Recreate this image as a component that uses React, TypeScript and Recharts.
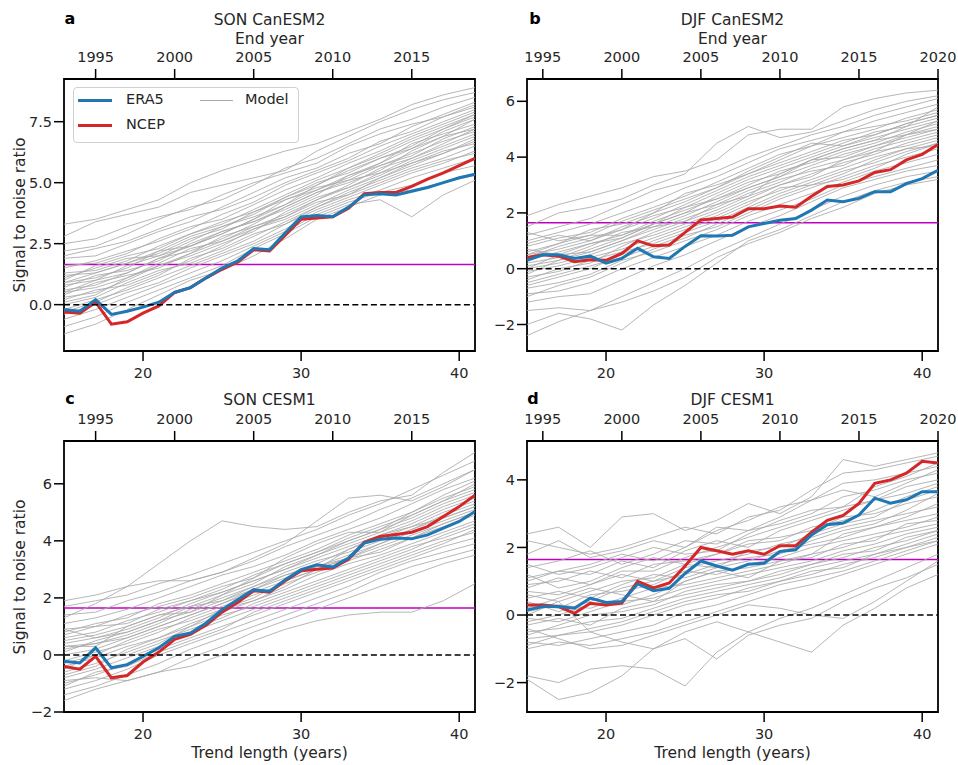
import React from "react";
import { LineChart, Line, XAxis, YAxis, ReferenceLine, ReferenceArea } from "recharts";

// x positions (trend length, years)
const trendLength = [15, 16, 17, 18, 19, 20, 21, 22, 23, 24, 25, 26, 27, 28, 29, 30, 31, 32, 33, 34, 35, 36, 37, 38, 39, 40, 41];
// model members are read every other year
const modelLength = [15, 17, 19, 21, 23, 25, 27, 29, 31, 33, 35, 37, 39, 41];

const threshold = 1.645;

// ---- a: SON CanESM2
const eraA = [-0.2, -0.27, 0.2, -0.4, -0.27, -0.1, 0.1, 0.5, 0.7, 1.1, 1.5, 1.8, 2.3, 2.25, 2.95, 3.6, 3.65, 3.6, 4.0, 4.5, 4.55, 4.5, 4.65, 4.8, 5.0, 5.2, 5.35];
const ncepA = [-0.3, -0.35, 0.1, -0.8, -0.7, -0.35, -0.05, 0.5, 0.7, 1.1, 1.45, 1.75, 2.25, 2.2, 2.85, 3.5, 3.55, 3.6, 3.95, 4.55, 4.6, 4.6, 4.85, 5.15, 5.4, 5.7, 6.0];
const modelsA = [
  [3.3, 3.5, 3.9, 4.3, 5.0, 5.5, 5.9, 6.3, 6.6, 7.1, 7.6, 8.2, 8.6, 8.9],
  [2.8, 3.4, 3.7, 4.0, 4.6, 4.9, 5.2, 5.5, 6.3, 6.9, 7.5, 8.0, 8.4, 8.7],
  [2.2, 2.4, 2.9, 3.5, 4.0, 4.3, 4.9, 5.6, 6.0, 6.6, 7.2, 7.6, 8.1, 8.5],
  [1.9, 2.0, 2.5, 3.0, 3.4, 4.0, 4.6, 5.2, 5.6, 6.2, 6.6, 7.3, 7.8, 8.3],
  [1.5, 1.8, 2.2, 2.6, 3.1, 3.7, 4.2, 4.9, 5.4, 5.9, 6.5, 7.0, 7.5, 8.0],
  [1.3, 1.4, 1.8, 2.4, 2.9, 3.3, 3.9, 4.5, 5.1, 5.6, 6.2, 6.8, 7.3, 7.8],
  [1.1, 1.5, 1.9, 2.0, 2.6, 3.2, 3.6, 4.1, 4.9, 5.5, 6.0, 6.4, 7.1, 7.6],
  [0.9, 1.1, 1.5, 2.2, 2.4, 2.9, 3.5, 4.3, 4.7, 5.2, 5.8, 6.6, 7.0, 7.4],
  [0.7, 1.2, 1.4, 1.8, 2.5, 3.0, 3.4, 3.9, 4.5, 5.3, 5.7, 6.1, 6.8, 7.3],
  [0.6, 0.8, 1.3, 1.9, 2.2, 2.7, 3.3, 4.0, 4.6, 5.0, 5.5, 6.3, 6.9, 7.2],
  [0.4, 0.9, 1.2, 1.5, 2.1, 2.8, 3.2, 3.7, 4.3, 4.9, 5.6, 6.0, 6.5, 7.0],
  [0.3, 0.5, 1.0, 1.6, 2.0, 2.5, 3.0, 3.8, 4.4, 4.8, 5.3, 5.9, 6.4, 6.9],
  [0.2, 0.6, 0.8, 1.3, 1.8, 2.4, 3.1, 3.5, 4.1, 4.7, 5.2, 5.7, 6.2, 6.7],
  [0.0, 0.3, 0.9, 1.4, 1.7, 2.2, 2.8, 3.4, 4.0, 4.6, 5.1, 5.6, 6.0, 6.5],
  [-0.2, 0.2, 0.6, 1.1, 1.6, 2.1, 2.6, 3.3, 3.9, 4.4, 4.9, 5.4, 5.8, 6.3],
  [-0.4, 0.0, 0.5, 0.9, 1.5, 2.0, 2.5, 3.1, 3.8, 4.3, 4.7, 5.2, 5.6, 6.0],
  [-0.6, -0.2, 0.3, 0.8, 1.3, 1.8, 2.4, 3.0, 3.7, 4.2, 4.6, 4.9, 5.4, 5.7],
  [-0.9, -0.5, 0.1, 0.6, 1.1, 1.6, 2.3, 2.9, 3.6, 4.1, 4.3, 3.6, 4.5, 5.1],
  [-1.2, -0.8, -0.2, 0.4, 1.0, 1.4, 2.0, 2.7, 3.5, 4.0, 4.5, 4.7, 5.0, 5.3],
  [1.0, 1.6, 2.0, 2.3, 2.9, 3.4, 3.8, 4.3, 4.8, 5.1, 5.4, 5.8, 6.2, 6.8],
  [0.5, 0.7, 1.1, 1.7, 2.3, 2.6, 3.2, 3.6, 4.2, 4.5, 5.0, 5.5, 5.9, 6.2],
  [2.5, 2.7, 3.2, 3.6, 3.9, 4.5, 5.0, 5.4, 5.8, 6.5, 7.0, 7.4, 7.7, 8.1],
  [1.2, 1.3, 1.7, 2.1, 2.7, 3.1, 3.8, 4.4, 4.9, 5.6, 6.1, 6.7, 7.2, 7.7],
  [0.8, 1.0, 1.6, 2.0, 2.4, 2.9, 3.5, 4.1, 4.7, 5.3, 5.8, 6.4, 6.9, 7.6],
  [0.5, 1.0, 1.3, 1.9, 2.4, 3.0, 3.4, 4.0, 4.6, 5.1, 5.7, 6.2, 6.7, 7.1],
  [1.6, 1.7, 2.1, 2.7, 3.2, 3.5, 4.1, 4.7, 5.2, 5.8, 6.3, 6.9, 7.4, 7.9],
  [0.1, 0.4, 1.1, 1.6, 2.1, 2.6, 3.1, 3.6, 4.3, 4.8, 5.4, 6.0, 6.6, 7.2],
  [2.0, 2.3, 2.6, 3.1, 3.6, 3.9, 4.4, 5.0, 5.5, 6.0, 6.7, 7.1, 7.7, 8.2],
  [-0.3, 0.1, 0.7, 1.2, 1.9, 2.3, 2.9, 3.3, 4.0, 4.5, 5.2, 5.8, 6.3, 6.6],
  [0.9, 1.3, 1.7, 2.2, 2.8, 3.2, 3.7, 4.4, 5.0, 5.4, 6.0, 6.5, 7.2, 7.8],
];

// ---- b: DJF CanESM2
const eraB = [0.3, 0.5, 0.5, 0.37, 0.45, 0.2, 0.37, 0.73, 0.43, 0.37, 0.8, 1.18, 1.17, 1.2, 1.5, 1.62, 1.74, 1.8, 2.1, 2.46, 2.4, 2.52, 2.76, 2.76, 3.05, 3.23, 3.53];
const ncepB = [0.4, 0.5, 0.45, 0.25, 0.32, 0.3, 0.55, 1.0, 0.82, 0.85, 1.3, 1.75, 1.8, 1.85, 2.15, 2.15, 2.25, 2.2, 2.6, 2.95, 3.0, 3.15, 3.45, 3.55, 3.9, 4.1, 4.45];
const modelsB = [
  [1.9, 2.3, 2.6, 2.9, 3.3, 3.5, 3.9, 4.8, 5.0, 5.0, 5.8, 6.1, 6.3, 6.4],
  [1.5, 2.0, 2.2, 2.5, 3.0, 3.4, 4.5, 5.1, 4.7, 4.9, 5.3, 5.7, 6.0, 6.2],
  [1.2, 1.5, 1.8, 2.3, 2.8, 3.1, 3.5, 4.0, 4.4, 4.8, 5.1, 5.5, 5.8, 6.1],
  [1.0, 1.3, 1.6, 2.0, 2.4, 2.9, 3.3, 3.8, 4.3, 4.6, 4.9, 5.3, 5.6, 5.9],
  [0.8, 1.1, 1.3, 1.8, 2.2, 2.6, 3.1, 3.6, 4.1, 4.4, 4.7, 5.0, 5.4, 5.7],
  [0.6, 0.9, 1.4, 1.6, 2.0, 2.4, 2.9, 3.4, 3.8, 4.2, 4.6, 4.8, 5.2, 5.5],
  [0.5, 0.7, 1.0, 1.5, 1.9, 2.2, 2.7, 3.2, 3.6, 4.0, 4.4, 4.7, 5.0, 5.3],
  [0.3, 0.6, 0.9, 1.2, 1.7, 2.1, 2.5, 3.0, 3.5, 3.8, 4.2, 4.5, 4.9, 5.2],
  [0.2, 0.4, 0.8, 1.3, 1.5, 1.9, 2.4, 2.9, 3.3, 3.7, 4.1, 4.4, 4.7, 5.0],
  [0.1, 0.3, 0.6, 1.0, 1.4, 1.8, 2.2, 2.7, 3.1, 3.6, 3.9, 4.3, 4.6, 4.9],
  [0.0, 0.2, 0.5, 0.9, 1.2, 1.6, 2.0, 2.5, 3.0, 3.4, 3.8, 4.1, 4.5, 4.8],
  [-0.1, 0.1, 0.4, 0.7, 1.1, 1.5, 1.9, 2.4, 2.8, 3.2, 3.6, 4.0, 4.3, 4.6],
  [-0.3, -0.1, 0.3, 0.6, 0.9, 1.3, 1.7, 2.2, 2.7, 3.1, 3.5, 3.8, 4.2, 4.5],
  [-0.5, -0.2, 0.1, 0.4, 0.8, 1.2, 1.5, 2.0, 2.5, 2.9, 3.3, 3.7, 4.0, 4.3],
  [-0.7, -0.5, -0.2, 0.3, 0.6, 1.0, 1.4, 1.9, 2.3, 2.7, 3.1, 3.5, 3.8, 4.1],
  [-0.9, -0.8, -0.5, 0.0, 0.4, 0.8, 1.2, 1.7, 2.1, 2.5, 3.0, 3.3, 3.6, 3.9],
  [-1.2, -1.0, -0.9, -0.4, 0.1, 0.5, 1.0, 1.5, 1.9, 2.4, 2.9, 3.2, 3.5, 3.7],
  [-1.5, -1.4, -1.5, -1.0, -0.5, 0.0, 0.6, 1.1, 1.6, 2.1, 2.6, 3.0, 3.3, 3.5],
  [-2.0, -1.6, -1.8, -2.2, -1.3, -0.6, 0.2, 1.0, 1.4, 1.9, 2.4, 2.8, 3.1, 3.3],
  [-2.4, -1.9, -1.5, -1.2, -0.8, -0.3, 0.4, 0.9, 1.3, 1.8, 2.2, 2.7, 3.0, 3.2],
  [0.9, 1.2, 1.0, 1.4, 2.0, 2.7, 3.0, 3.4, 3.9, 4.4, 4.9, 5.1, 5.3, 5.6],
  [-0.4, 0.0, 0.2, 0.8, 1.3, 1.7, 2.3, 2.8, 3.2, 3.5, 3.7, 4.2, 4.4, 4.7],
  [0.4, 0.8, 1.1, 1.4, 1.8, 2.3, 2.8, 3.3, 3.7, 4.1, 4.5, 4.9, 5.1, 5.4],
  [0.7, 0.5, 0.9, 1.1, 1.6, 2.0, 2.6, 3.1, 3.4, 3.9, 4.3, 4.6, 5.1, 5.8],
  [-0.2, 0.3, 0.7, 1.1, 1.6, 2.0, 2.3, 2.6, 3.0, 3.3, 3.9, 4.2, 4.8, 5.1],
  [1.3, 1.0, 1.2, 1.7, 2.1, 2.5, 2.9, 3.5, 4.0, 4.5, 4.4, 4.8, 5.2, 5.5],
  [0.0, 0.5, 0.6, 1.0, 1.5, 1.7, 2.1, 2.6, 3.4, 3.9, 4.0, 4.4, 4.8, 5.0],
  [-0.6, -0.3, 0.0, 0.5, 1.0, 1.4, 1.8, 2.3, 2.9, 3.0, 3.4, 3.9, 4.3, 4.4],
  [0.5, 0.9, 1.2, 1.2, 1.6, 2.2, 2.5, 2.9, 3.3, 3.9, 4.3, 4.6, 4.8, 5.3],
  [-1.0, -0.6, -0.3, 0.2, 0.7, 1.1, 1.6, 2.1, 2.6, 3.0, 3.2, 3.6, 4.1, 4.5],
];

// ---- c: SON CESM1
const eraC = [-0.22, -0.28, 0.25, -0.45, -0.34, -0.05, 0.25, 0.65, 0.77, 1.12, 1.59, 1.94, 2.29, 2.23, 2.64, 2.99, 3.16, 3.08, 3.4, 3.92, 4.06, 4.1, 4.07, 4.21, 4.45, 4.68, 5.03];
const ncepC = [-0.4, -0.5, -0.05, -0.8, -0.72, -0.25, 0.1, 0.55, 0.72, 1.05, 1.5, 1.85, 2.25, 2.2, 2.6, 2.95, 3.0, 3.05, 3.35, 3.95, 4.15, 4.22, 4.3, 4.5, 4.85, 5.2, 5.6];
const modelsC = [
  [1.9, 2.1, 2.4, 3.2, 4.0, 4.7, 4.5, 4.4, 4.5, 5.0, 5.4, 5.6, 6.4, 7.1],
  [1.7, 1.9, 2.1, 2.5, 2.8, 3.2, 3.6, 4.0, 4.4, 4.9, 5.3, 5.8, 6.3, 6.8],
  [1.4, 1.5, 1.9, 2.2, 2.6, 2.9, 3.3, 3.8, 4.2, 4.6, 5.1, 5.5, 6.0, 6.5],
  [1.1, 1.3, 1.6, 2.0, 2.4, 2.8, 3.1, 3.5, 4.0, 4.4, 4.8, 5.3, 5.8, 6.2],
  [0.8, 1.1, 1.3, 1.8, 2.1, 2.5, 2.9, 3.3, 3.7, 4.2, 4.6, 5.0, 5.5, 5.9],
  [0.6, 0.8, 1.2, 1.5, 1.9, 2.3, 2.8, 3.2, 3.6, 4.0, 4.4, 4.8, 5.3, 5.7],
  [0.4, 0.6, 0.9, 1.3, 1.8, 2.2, 2.6, 3.0, 3.4, 3.8, 4.2, 4.6, 5.1, 5.5],
  [0.2, 0.4, 0.7, 1.1, 1.6, 2.0, 2.4, 2.9, 3.3, 3.6, 4.0, 4.4, 4.9, 5.3],
  [0.0, 0.2, 0.6, 1.0, 1.4, 1.8, 2.3, 2.7, 3.1, 3.5, 3.9, 4.3, 4.7, 5.1],
  [-0.2, 0.1, 0.4, 0.8, 1.3, 1.7, 2.1, 2.5, 2.9, 3.3, 3.7, 4.1, 4.5, 4.9],
  [-0.4, -0.1, 0.3, 0.6, 1.1, 1.5, 1.9, 2.3, 2.8, 3.2, 3.5, 3.9, 4.3, 4.7],
  [-0.6, -0.3, 0.1, 0.5, 0.9, 1.3, 1.8, 2.2, 2.6, 3.0, 3.4, 3.8, 4.1, 4.5],
  [-0.8, -0.5, -0.1, 0.3, 0.8, 1.2, 1.6, 2.0, 2.4, 2.8, 3.2, 3.6, 4.0, 4.3],
  [-1.0, -0.7, -0.3, 0.2, 0.6, 1.0, 1.4, 1.8, 2.2, 2.6, 3.0, 3.4, 3.8, 4.1],
  [-1.2, -0.9, -0.5, 0.0, 0.4, 0.8, 1.2, 1.6, 2.0, 2.4, 2.9, 3.3, 3.6, 3.9],
  [-1.4, -1.1, -0.7, -0.3, 0.2, 0.6, 1.0, 1.4, 1.8, 2.2, 2.7, 3.1, 3.4, 3.7],
  [-1.6, -1.2, -0.9, -0.6, -0.1, 0.3, 0.8, 1.2, 1.6, 2.0, 2.4, 2.8, 3.2, 3.5],
  [-0.9, -0.8, -0.9, -0.6, -0.4, 0.0, 0.5, 0.9, 1.2, 1.4, 1.5, 1.5, 1.9, 2.5],
  [1.3, 1.8, 2.4, 2.6, 2.6, 2.9, 3.4, 3.9, 4.7, 5.5, 5.6, 5.4, 5.9, 6.5],
  [0.3, 0.3, 1.0, 1.4, 1.5, 2.1, 2.7, 3.4, 3.9, 4.3, 4.3, 4.9, 5.4, 5.8],
  [-0.5, 0.0, 0.0, 0.4, 1.0, 1.6, 1.9, 2.4, 3.0, 3.7, 4.2, 4.5, 4.8, 5.2],
  [0.9, 0.6, 0.8, 1.2, 1.7, 1.9, 2.3, 2.8, 3.1, 3.4, 3.6, 4.1, 4.6, 5.0],
  [0.5, 0.7, 1.0, 1.4, 1.7, 2.1, 2.5, 3.1, 3.5, 3.9, 4.3, 4.7, 5.2, 5.6],
  [0.1, 0.5, 0.8, 1.2, 1.5, 1.9, 2.4, 2.8, 3.2, 3.7, 4.1, 4.5, 5.0, 5.4],
  [-0.3, 0.0, 0.5, 0.9, 1.2, 1.6, 2.0, 2.6, 3.0, 3.4, 3.8, 4.2, 4.6, 5.0],
  [0.9, 1.0, 1.4, 1.7, 2.0, 2.4, 2.7, 3.2, 3.6, 4.1, 4.5, 4.9, 5.4, 6.0],
  [-0.7, -0.4, 0.2, 0.6, 1.0, 1.4, 1.7, 2.1, 2.5, 2.9, 3.3, 3.7, 4.2, 4.6],
  [0.3, 0.4, 0.6, 1.0, 1.4, 1.8, 2.2, 2.6, 3.0, 3.4, 3.9, 4.4, 4.8, 5.2],
  [-1.1, -0.6, -0.4, 0.1, 0.5, 0.9, 1.5, 1.9, 2.3, 2.7, 3.1, 3.5, 3.9, 4.4],
  [0.7, 1.0, 1.1, 1.6, 1.9, 2.2, 2.6, 3.0, 3.5, 4.0, 4.4, 5.0, 5.6, 6.1],
];

// ---- d: DJF CESM1
const eraD = [0.15, 0.25, 0.25, 0.2, 0.5, 0.37, 0.4, 0.92, 0.72, 0.79, 1.23, 1.6, 1.45, 1.33, 1.5, 1.53, 1.88, 1.93, 2.37, 2.67, 2.72, 2.96, 3.46, 3.31, 3.41, 3.65, 3.65];
const ncepD = [0.3, 0.3, 0.25, 0.05, 0.35, 0.3, 0.35, 1.0, 0.8, 0.95, 1.45, 2.0, 1.9, 1.8, 1.9, 1.8, 2.05, 2.05, 2.45, 2.8, 2.95, 3.3, 3.9, 4.0, 4.2, 4.55, 4.5];
const modelsD = [
  [2.4, 2.6, 2.0, 2.9, 3.0, 2.5, 2.8, 3.3, 3.0, 3.5, 4.6, 4.4, 4.6, 4.8],
  [2.2, 2.0, 1.8, 2.0, 2.3, 2.6, 2.4, 2.9, 3.1, 3.7, 4.2, 4.3, 4.5, 4.7],
  [1.8, 2.2, 1.7, 1.9, 2.2, 2.0, 2.6, 2.5, 2.9, 3.4, 3.9, 4.0, 4.2, 4.4],
  [1.4, 1.6, 1.9, 1.5, 1.8, 2.2, 2.1, 2.5, 2.7, 3.0, 3.5, 3.7, 4.0, 4.2],
  [1.1, 1.3, 1.2, 1.6, 1.4, 1.9, 2.2, 2.0, 2.5, 2.8, 3.1, 3.4, 3.6, 3.9],
  [0.9, 1.0, 1.3, 1.1, 1.5, 1.6, 1.8, 2.2, 2.3, 2.5, 2.9, 3.0, 3.3, 3.5],
  [0.7, 0.6, 0.9, 1.2, 1.0, 1.4, 1.6, 1.8, 2.1, 2.3, 2.6, 2.8, 3.0, 3.2],
  [0.5, 0.7, 0.5, 0.9, 1.2, 1.1, 1.4, 1.6, 1.9, 2.1, 2.3, 2.6, 2.8, 3.0],
  [0.3, 0.2, 0.6, 0.7, 0.9, 1.3, 1.2, 1.5, 1.7, 2.0, 2.2, 2.4, 2.6, 2.9],
  [0.1, 0.3, 0.2, 0.5, 0.8, 0.9, 1.1, 1.3, 1.5, 1.8, 2.0, 2.3, 2.5, 2.7],
  [-0.1, -0.2, 0.1, 0.4, 0.5, 0.8, 1.0, 1.2, 1.4, 1.6, 1.9, 2.1, 2.4, 2.6],
  [-0.3, -0.1, -0.3, 0.2, 0.4, 0.6, 0.8, 1.0, 1.3, 1.5, 1.7, 2.0, 2.2, 2.5],
  [-0.5, -0.4, -0.2, -0.1, 0.2, 0.5, 0.7, 0.9, 1.1, 1.4, 1.6, 1.8, 2.1, 2.4],
  [-0.7, -0.6, -0.5, -0.3, 0.0, 0.3, 0.5, 0.8, 1.0, 1.2, 1.5, 1.7, 2.0, 2.3],
  [-0.8, -0.9, -0.7, -0.5, -0.3, 0.1, 0.3, 0.6, 0.9, 1.1, 1.3, 1.6, 1.9, 2.2],
  [-1.0, -0.8, -0.9, -0.7, -0.5, -0.2, 0.1, 0.4, 0.7, 0.9, 1.2, 1.5, 1.8, 2.1],
  [-1.8, -2.0, -1.6, -1.5, -1.6, -2.1, -1.1, -0.5, -0.1, 0.2, 0.6, 1.0, 1.4, 1.8],
  [-1.9, -2.5, -2.3, -1.8, -1.0, -0.7, -1.3, -0.6, -0.3, -0.1, 0.4, 0.8, 1.1, 1.5],
  [0.6, 0.4, -0.5, -0.8, -1.0, -0.5, -0.2, -0.5, -0.8, -1.1, -0.3, 0.2, 0.8, 1.2],
  [-0.4, -0.7, -1.0, -0.9, -0.6, -0.3, 0.0, 0.3, 0.2, 0.0, -0.1, 0.4, 1.0, 1.6],
  [1.0, 1.3, 1.5, 1.8, 1.6, 2.0, 2.5, 2.8, 3.2, 3.4, 3.7, 3.5, 3.9, 4.3],
  [0.2, 0.5, 0.8, 0.6, 0.4, 1.0, 1.3, 1.1, 1.6, 1.8, 2.4, 2.6, 2.9, 3.3],
  [0.8, 1.1, 0.9, 1.3, 1.3, 1.7, 2.0, 2.3, 2.6, 2.9, 3.2, 3.4, 3.8, 4.0],
  [0.4, 0.1, 0.4, 0.8, 1.0, 1.2, 1.5, 1.7, 1.8, 2.2, 2.5, 2.7, 3.1, 3.6],
  [-0.2, 0.0, 0.3, 0.3, 0.6, 1.0, 1.3, 1.4, 1.6, 1.7, 2.1, 2.2, 2.7, 2.8],
  [1.5, 1.2, 1.4, 1.7, 2.0, 1.8, 1.9, 2.4, 2.8, 3.1, 3.2, 3.8, 4.1, 4.5],
  [-0.6, -0.3, 0.0, 0.1, 0.3, 0.7, 0.9, 1.0, 1.2, 1.5, 1.8, 1.9, 2.3, 2.5],
  [0.0, 0.4, 0.7, 1.0, 1.1, 1.5, 1.4, 1.9, 2.0, 2.4, 2.7, 2.9, 3.4, 3.7],
  [1.2, 0.8, 1.0, 1.4, 1.7, 1.5, 1.8, 2.1, 2.2, 2.6, 2.8, 3.1, 3.5, 3.8],
  [-0.9, -0.6, -0.4, -0.2, 0.1, 0.4, 0.6, 0.7, 1.0, 1.3, 1.4, 1.8, 2.0, 2.2],
];

const lengthTicks = [20, 30, 40];
const yearTicksSON = [1995, 2000, 2005, 2010, 2015];
const yearTicksDJF = [1995, 2000, 2005, 2010, 2015, 2020];

const FONT = "DejaVu Sans";
const INK = "#262626";

function buildRows(era: number[], ncep: number[], models: number[][], yearOffset: number) {
  return trendLength.map((len, i) => {
    const row: any = { len, year: len + yearOffset, era: era[i], ncep: ncep[i] };
    const k = modelLength.indexOf(len);
    models.forEach((m, j) => {
      row["m" + j] = k >= 0 ? m[k] : null;
    });
    return row;
  });
}

const fmtY = (digits: number) => (v: number) => {
  const s = Math.abs(v).toFixed(digits);
  return v < 0 ? "\u2212" + s : s;
};

const tickStyle = { fontFamily: FONT, fontSize: 14.5, fill: INK };
const tickLine = { stroke: "#000", strokeWidth: 1.5 };

type PanelProps = {
  left: number;
  top: number;
  topH: number;
  plotH: number;
  rows: any[];
  nModels: number;
  yDomain: [number, number];
  yTicks: number[];
  yDigits: number;
  yearDomain: [number, number];
  yearTicks: number[];
};

const Panel = ({ left, top, topH, plotH, rows, nModels, yDomain, yTicks, yDigits, yearDomain, yearTicks }: PanelProps) => {
  const bottomH = 32;
  const height = topH + plotH + bottomH;
  return (
    <div style={{ position: "absolute", left, top }}>
      <LineChart width={495} height={height} data={rows} margin={{ top: 0, right: 20, bottom: 0, left: 0 }}>
        <XAxis
          xAxisId="b"
          dataKey="len"
          type="number"
          domain={[15, 41]}
          allowDataOverflow
          ticks={lengthTicks}
          height={bottomH}
          tickSize={10}
          tickMargin={7}
          tick={tickStyle}
          tickLine={tickLine}
          axisLine={false}
        />
        <XAxis
          xAxisId="t"
          orientation="top"
          dataKey="year"
          type="number"
          domain={yearDomain}
          allowDataOverflow
          ticks={yearTicks}
          height={topH}
          tickSize={10}
          tickMargin={7}
          tick={tickStyle}
          tickLine={tickLine}
          axisLine={false}
        />
        <YAxis
          type="number"
          domain={yDomain}
          allowDataOverflow
          ticks={yTicks}
          width={64}
          tickSize={10}
          tickMargin={2}
          tick={tickStyle}
          tickLine={tickLine}
          axisLine={false}
          tickFormatter={fmtY(yDigits)}
        />
        <ReferenceLine xAxisId="b" y={threshold} stroke="#c000c0" strokeWidth={1.5} />
        {Array.from({ length: nModels }, (_, j) => (
          <Line
            key={j}
            xAxisId="b"
            dataKey={"m" + j}
            stroke="#a9a9a9"
            strokeOpacity={0.85}
            strokeWidth={1}
            dot={false}
            activeDot={false}
            connectNulls
            isAnimationActive={false}
          />
        ))}
        <Line xAxisId="b" dataKey="ncep" stroke="#d62728" strokeWidth={3} dot={false} activeDot={false} isAnimationActive={false} />
        <Line xAxisId="b" dataKey="era" stroke="#1f77b4" strokeWidth={3} dot={false} activeDot={false} isAnimationActive={false} />
        <ReferenceLine xAxisId="b" y={0} stroke="#000" strokeWidth={1.5} strokeDasharray="6 3.3" />
        <ReferenceArea xAxisId="b" x1={15} x2={41} y1={yDomain[0]} y2={yDomain[1]} fill="none" stroke="#000" strokeWidth={1.8} />
      </LineChart>
    </div>
  );
};

const text = (left: number, top: number, content: string, extra: any = {}) => (
  <div
    style={{
      position: "absolute",
      left: left - 150,
      top: top - 10,
      width: 300,
      height: 20,
      lineHeight: "20px",
      textAlign: "center",
      fontFamily: FONT,
      fontSize: 15.5,
      color: INK,
      whiteSpace: "nowrap",
      ...extra,
    }}
  >
    {content}
  </div>
);

const Legend = () => (
  <div
    style={{
      position: "absolute",
      left: 73,
      top: 87,
      width: 224,
      height: 54,
      border: "1px solid #d0d0d0",
      borderRadius: 4,
      background: "rgba(255,255,255,0.85)",
      fontFamily: FONT,
      fontSize: 14.5,
      color: INK,
    }}
  >
    <svg width={224} height={54} style={{ position: "absolute", left: 0, top: 0 }}>
      <line x1={4} x2={38} y1={12.5} y2={12.5} stroke="#1f77b4" strokeWidth={3} />
      <line x1={4} x2={38} y1={37.5} y2={37.5} stroke="#d62728" strokeWidth={3} />
      <line x1={126} x2={159} y1={12.5} y2={12.5} stroke="#a9a9a9" strokeWidth={1.2} />
    </svg>
    <div style={{ position: "absolute", left: 52, top: 3 }}>ERA5</div>
    <div style={{ position: "absolute", left: 52, top: 28 }}>NCEP</div>
    <div style={{ position: "absolute", left: 171, top: 3 }}>Model</div>
  </div>
);

const App = () => {
  const rowsA = buildRows(eraA, ncepA, modelsA, 1978);
  const rowsB = buildRows(eraB, ncepB, modelsB, 1979);
  const rowsC = buildRows(eraC, ncepC, modelsC, 1978);
  const rowsD = buildRows(eraD, ncepD, modelsD, 1979);
  const yLabel = { transform: "rotate(-90deg)", fontSize: 15.5 };
  return (
    <div style={{ position: "absolute", left: 0, top: 0, width: 958, height: 765, background: "#fff" }}>
      <Panel left={0} top={0} topH={79} plotH={272} rows={rowsA} nModels={modelsA.length} yDomain={[-1.9, 9.25]} yTicks={[0, 2.5, 5, 7.5]} yDigits={1} yearDomain={[1993, 2019]} yearTicks={yearTicksSON} />
      <Panel left={463} top={0} topH={79} plotH={272} rows={rowsB} nModels={modelsB.length} yDomain={[-2.95, 6.8]} yTicks={[-2, 0, 2, 4, 6]} yDigits={0} yearDomain={[1994, 2020]} yearTicks={yearTicksDJF} />
      <Panel left={0} top={380} topH={61} plotH={271} rows={rowsC} nModels={modelsC.length} yDomain={[-2, 7.5]} yTicks={[-2, 0, 2, 4, 6]} yDigits={0} yearDomain={[1993, 2019]} yearTicks={yearTicksSON} />
      <Panel left={463} top={380} topH={61} plotH={271} rows={rowsD} nModels={modelsD.length} yDomain={[-2.87, 5.15]} yTicks={[-2, 0, 2, 4]} yDigits={0} yearDomain={[1994, 2020]} yearTicks={yearTicksDJF} />

      {text(269.5, 20, "SON CanESM2")}
      {text(269.5, 39, "End year")}
      {text(732.5, 20, "DJF CanESM2")}
      {text(732.5, 39, "End year")}
      {text(269.5, 400, "SON CESM1")}
      {text(732.5, 400, "DJF CESM1")}
      {text(269.5, 753, "Trend length (years)")}
      {text(732.5, 753, "Trend length (years)")}
      {text(20, 215, "Signal to noise ratio", yLabel)}
      {text(20, 576.5, "Signal to noise ratio", yLabel)}
      {text(70, 19, "a", { fontWeight: "bold", fontSize: 16, color: "#000" })}
      {text(535, 19, "b", { fontWeight: "bold", fontSize: 16, color: "#000" })}
      {text(70, 399, "c", { fontWeight: "bold", fontSize: 16, color: "#000" })}
      {text(533, 399, "d", { fontWeight: "bold", fontSize: 16, color: "#000" })}
      <Legend />
    </div>
  );
};

export default App;
